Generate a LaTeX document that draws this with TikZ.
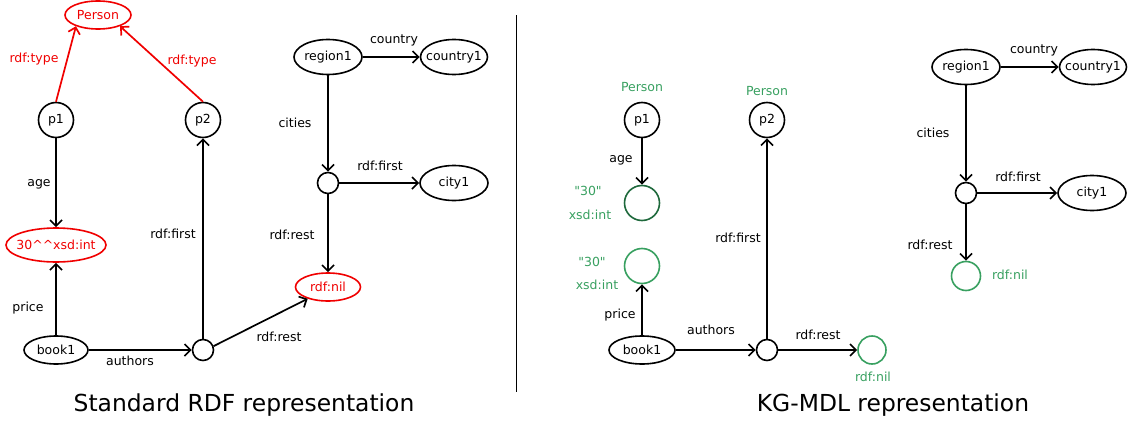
\documentclass[tikz,border=0pt]{standalone}
\usepackage{fontspec}
\setmainfont{DejaVu Sans}[Ligatures=TeXOff]
\usetikzlibrary{shapes.geometric,arrows.meta}
\definecolor{rdfred}{RGB}{240,0,0}
\definecolor{kgg}{RGB}{56,160,96}
\definecolor{kgdark}{RGB}{30,105,60}
\begin{document}
\begin{tikzpicture}[x=1pt,y=-1pt,
  every node/.style={font=\fontsize{12.5}{15}\selectfont, inner sep=0pt},
  circ/.style={circle, draw, line width=1.6pt, minimum size=35pt},
  bnode/.style={circle, draw, line width=1.6pt, minimum size=21pt},
  ell/.style={ellipse, draw, line width=1.6pt, minimum width=68pt, minimum height=35pt, inner xsep=-6pt},
  conn/.style={draw, line width=1.7pt, -{Straight Barb[length=6pt,width=12pt,line width=1.7pt]}},
  title/.style={font=\fontsize{23.4}{28}\selectfont}
]
\useasboundingbox (0,0) rectangle (1128,423);

% ---------------- Left: Standard RDF ----------------
\node[ell, draw=rdfred, text=rdfred, minimum width=66pt, minimum height=28pt] (person) at (98,15) {Person};
\node[circ] (p1) at (56,120) {p1};
\node[circ] (p2) at (203,120) {p2};
\node[ell, draw=rdfred, text=rdfred, minimum width=100pt, minimum height=34pt, inner xsep=-7.5pt] (lit) at (56,245) {30\textasciicircum\textasciicircum xsd:int};
\node[ell, minimum width=64pt, minimum height=28pt] (book) at (56,350) {book1};
\node[bnode] (b1) at (203,350) {};
\node[ell] (region) at (328,57) {region1};
\node[ell, minimum width=67pt] (country) at (454,57) {country1};
\node[bnode] (b2) at (328,183) {};
\node[ell] (city) at (454,183) {city1};
\node[ell, draw=rdfred, text=rdfred, minimum width=65pt, minimum height=28pt] (nil) at (328,287) {rdf:nil};

\draw[conn, draw=rdfred] (p1.north) -- (person.207);
\draw[conn, draw=rdfred] (p2.north) -- (person.333);
\draw[conn] (p1) -- (lit);
\draw[conn] (book) -- (lit);
\draw[conn] (book) -- (b1);
\draw[conn] (b1) -- (p2);
\draw[conn] (b1.20) -- (nil.210);
\draw[conn] (region) -- (country);
\draw[conn] (region) -- (b2);
\draw[conn] (b2) -- (city);
\draw[conn] (b2) -- (nil);

\node[text=rdfred] (l1) at (34,59) {rdf:type};
\node[text=rdfred] (l2) at (192,61) {rdf:type};
\node (l3) at (39,184) {age};
\node (l4) at (28,308) {price};
\node (l5) at (130,361) {authors};
\node (l6) at (173,234) {rdf:first};
\node (l7) at (279,337) {rdf:rest};
\node (l8) at (394,40) {country};
\node (l9) at (295,123) {cities};
\node (l10) at (380,166) {rdf:first};
\node (l11) at (292,235) {rdf:rest};

\node[title] (t1) at (244,405) {Standard RDF representation};

% divider
\coordinate (d1) at (516,15);
\coordinate (d2) at (516,392);
\draw[line width=0.8pt] (d1) -- (d2);

% ---------------- Right: KG-MDL ----------------
\node[circ] (q1) at (642,120) {p1};
\node[circ] (q2) at (767,120) {p2};
\node[circ, draw=kgdark] (lita) at (642,203) {};
\node[circ, draw=kgg] (litb) at (642,266) {};
\node[ell, minimum width=66pt, minimum height=28pt] (book2) at (642,350) {book1};
\node[bnode] (c1) at (767,350) {};
\node[circle, draw=kgg, line width=1.6pt, minimum size=28pt] (nil2) at (872,350) {};
\node[ell] (region2) at (966,67) {region1};
\node[ell, minimum width=67pt] (country2) at (1093,67) {country1};
\node[bnode] (c2) at (966,193) {};
\node[ell] (city2) at (1092,193) {city1};
\node[circle, draw=kgg, line width=1.6pt, minimum size=29pt] (nil3) at (966,276) {};

\draw[conn] (q1) -- (lita);
\draw[conn] (book2) -- (litb);
\draw[conn] (book2) -- (c1);
\draw[conn] (c1) -- (q2);
\draw[conn] (c1) -- (nil2);
\draw[conn] (region2) -- (country2);
\draw[conn] (region2) -- (c2);
\draw[conn] (c2) -- (city2);
\draw[conn] (c2) -- (nil3);

\node[text=kgg] (m1) at (642,87) {Person};
\node[text=kgg] (m2) at (767,91) {Person};
\node (m3) at (621,160) {age};
\node[text=kgg] (m4) at (588,191) {"30"};
\node[text=kgg] (m5) at (590,215) {xsd:int};
\node[text=kgg] (m6) at (592,262) {"30"};
\node[text=kgg] (m7) at (597,285) {xsd:int};
\node (m8) at (620,315) {price};
\node (m9) at (711,330) {authors};
\node (m10) at (818,335) {rdf:rest};
\node[text=kgg] (m11) at (873,377) {rdf:nil};
\node (m12) at (738,238) {rdf:first};
\node (m13) at (1034,50) {country};
\node (m14) at (933,133) {cities};
\node (m15) at (1018,177) {rdf:first};
\node (m16) at (930,245) {rdf:rest};
\node[text=kgg] (m17) at (1010,275) {rdf:nil};

\node[title] (t2) at (893,405) {KG-MDL representation};
\end{tikzpicture}
\end{document}
